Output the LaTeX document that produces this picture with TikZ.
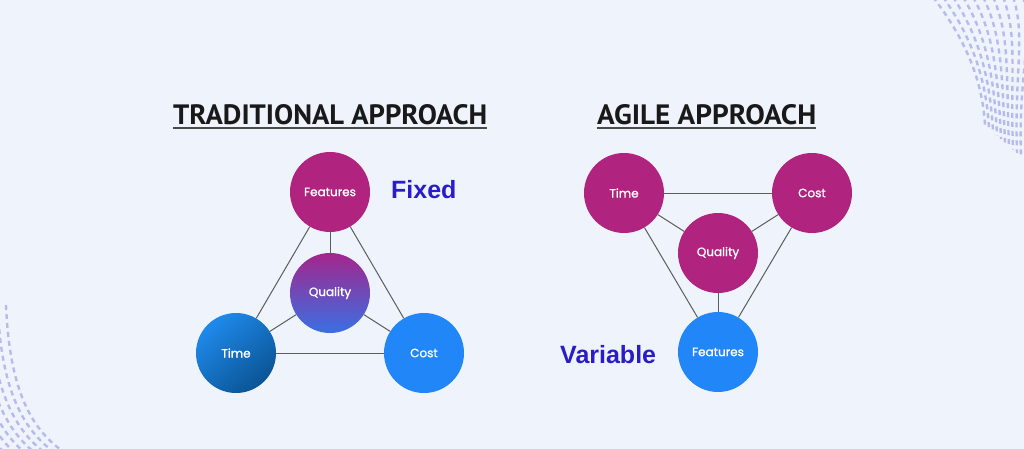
\documentclass[tikz,border=0pt]{standalone}
\usepackage{fontspec}
\setmainfont{Liberation Sans}
\newfontfamily\lblfont{Poppins}[FakeBold=1.2]
\newfontfamily\ttlfont{PT Sans}
\newfontfamily\tagfont{Liberation Sans}
\definecolor{bg}{HTML}{EFF4FC}
\definecolor{mag}{HTML}{B0247F}
\definecolor{blueA}{HTML}{2186F8}
\definecolor{ink}{HTML}{2A1DC8}
\definecolor{edge}{HTML}{5C5C5C}
\definecolor{dotc}{HTML}{B0B0EA}
\definecolor{qtop}{HTML}{A3268C}
\definecolor{qbot}{HTML}{3A6FE4}
\definecolor{ttop}{HTML}{1F8AEC}
\definecolor{tbot}{HTML}{0A5494}
\definecolor{ulc}{HTML}{4A4A4A}
\tikzset{
  ball/.style={circle, minimum size=80pt, inner sep=0pt, text=white,
    font=\lblfont\fontsize{12}{14}\selectfont},
  link/.style={draw=edge, line width=1pt},
  ttl/.style={inner sep=0pt, anchor=base west, text=black!90},
  uline/.style={draw=ulc, line width=2pt},
  tag/.style={text=ink, font=\tagfont\bfseries\fontsize{25}{29}\selectfont, inner sep=0pt, anchor=base west},
  dotrow/.style={draw=dotc, line width=2.4pt, dash pattern=on 5pt off 4pt}
}
\begin{document}
\begin{tikzpicture}[x=1pt,y=-1pt]
\fill[bg] (0,0) rectangle (1024,449);
\useasboundingbox (0,0) rectangle (1024,449);
% decorations
\begin{scope}
\clip (0,0) rectangle (1024,449);
\foreach \i in {0,...,9} {
  \draw[dotrow, opacity=0.85] (933+10*\i,-3) .. controls (962+8*\i,35) and (982+4*\i,75) .. (985+4*\i,125+3.5*\i);
}
\foreach \i in {0,...,7} {
  \draw[dotrow, opacity=0.85] (6-8*\i,305+6*\i) .. controls (9-8*\i,375) and (24-8*\i,425) .. (64-10*\i,452);
}
\end{scope}
% titles
\node[ttl] (t1) at (173,125) {\resizebox{314pt}{20pt}{\ttlfont\bfseries TRADITIONAL APPROACH}};
\draw[uline] ([yshift=-3.5pt]t1.base west) -- ([yshift=-3.5pt]t1.base east);
\node[ttl] (t2) at (597,125) {\resizebox{219pt}{20pt}{\ttlfont\bfseries AGILE APPROACH}};
\draw[uline] ([yshift=-3.5pt]t2.base west) -- ([yshift=-3.5pt]t2.base east);
% traditional
\node[ball, fill=mag] (f1) at (330,192) {Features};
\node[ball, top color=qtop, bottom color=qbot] (q1) at (330,293) {Quality};
\node[ball, top color=ttop, bottom color=tbot, shading angle=40] (tm1) at (236,353) {Time};
\node[ball, fill=blueA] (c1) at (424,353) {Cost};
\draw[link] (f1) -- (tm1);
\draw[link] (f1) -- (c1);
\draw[link] (tm1) -- (c1);
\draw[link] (q1) -- (f1);
\draw[link] (q1) -- (tm1);
\draw[link] (q1) -- (c1);
\node[tag] (fx) at (391,198) {Fixed};
% agile
\node[ball, fill=mag] (tm2) at (624,193) {Time};
\node[ball, fill=mag] (c2) at (812,193) {Cost};
\node[ball, fill=mag] (q2) at (718,253) {Quality};
\node[ball, fill=blueA] (f2) at (718,352) {Features};
\draw[link] (tm2) -- (c2);
\draw[link] (tm2) -- (q2);
\draw[link] (c2) -- (q2);
\draw[link] (q2) -- (f2);
\draw[link] (tm2) -- (f2);
\draw[link] (c2) -- (f2);
\node[tag] (vr) at (560,363) {Variable};
\end{tikzpicture}
\end{document}
